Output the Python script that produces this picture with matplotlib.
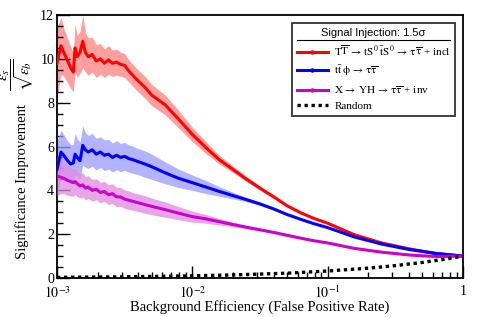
import matplotlib
matplotlib.use('Agg')
import matplotlib.pyplot as plt
from matplotlib.lines import Line2D
from matplotlib.ticker import FixedLocator, FixedFormatter, MultipleLocator, LogLocator, NullFormatter
import numpy as np

plt.rcParams['font.family'] = ['Liberation Serif', 'DejaVu Serif']
plt.rcParams['mathtext.fontset'] = 'stix'

## background efficiency (false positive rate)
eff = [0.001, 0.00107, 0.00112, 0.0012, 0.00126, 0.00132, 0.00136, 0.00141, 0.00148,
       0.00155, 0.00162, 0.0017, 0.00182, 0.00195, 0.00209, 0.00224, 0.0024, 0.00257,
       0.00275, 0.00295, 0.00316, 0.00339, 0.00363, 0.00389, 0.00447, 0.005, 0.0063,
       0.0079, 0.01, 0.0126, 0.0158, 0.02, 0.025, 0.0316, 0.04, 0.05, 0.063, 0.079,
       0.1, 0.158, 0.25, 0.4, 0.63, 1.0]

## significance improvement per model
sig_tt = [9.8, 10.6, 10.3, 9.9, 9.6, 9.4, 10.5, 10.1, 10.3, 10.8, 10.3, 10.1, 10.2,
          9.9, 10.0, 9.8, 9.95, 9.8, 9.85, 9.75, 9.7, 9.45, 9.25, 9.05, 8.7, 8.35, 7.9,
          7.25, 6.55, 5.95, 5.4, 4.95, 4.52, 4.1, 3.7, 3.3, 2.98, 2.72, 2.5, 1.97, 1.6,
          1.33, 1.12, 1.0]
err_tt = [1.6, 1.3, 1.1, 1.0, 0.95, 0.9, 1.1, 0.95, 0.95, 1.2, 0.9, 0.85, 0.8, 0.75,
          0.7, 0.65, 0.65, 0.6, 0.6, 0.55, 0.55, 0.5, 0.5, 0.5, 0.5, 0.48, 0.45, 0.4,
          0.33, 0.27, 0.2, 0.15, 0.12, 0.09, 0.07, 0.05, 0.04, 0.03, 0.03, 0.02, 0.02,
          0.02, 0.01, 0.0]

sig_ttphi = [4.95, 5.75, 5.6, 5.35, 5.2, 5.25, 5.65, 5.5, 5.35, 6.05, 5.85, 5.75, 5.85,
             5.65, 5.75, 5.6, 5.65, 5.5, 5.6, 5.5, 5.55, 5.45, 5.4, 5.33, 5.2, 5.08, 4.8,
             4.55, 4.35, 4.15, 3.95, 3.76, 3.58, 3.38, 3.15, 2.9, 2.68, 2.48, 2.3, 1.87,
             1.55, 1.3, 1.12, 1.0]
err_ttphi = [1.3, 1.0, 0.95, 0.9, 0.9, 0.85, 0.95, 0.85, 0.85, 0.9, 0.8, 0.75, 0.75,
             0.72, 0.7, 0.7, 0.68, 0.66, 0.66, 0.64, 0.64, 0.62, 0.62, 0.6, 0.6, 0.58,
             0.5, 0.42, 0.35, 0.3, 0.22, 0.15, 0.1, 0.07, 0.05, 0.04, 0.03, 0.03, 0.02,
             0.02, 0.02, 0.01, 0.01, 0.0]

sig_xyh = [4.65, 4.6, 4.55, 4.45, 4.4, 4.35, 4.4, 4.3, 4.2, 4.25, 4.1, 4.15, 4.0, 4.05,
           3.9, 3.95, 3.8, 3.85, 3.7, 3.7, 3.6, 3.55, 3.5, 3.45, 3.35, 3.27, 3.12, 2.96,
           2.8, 2.7, 2.57, 2.44, 2.32, 2.2, 2.08, 1.95, 1.82, 1.7, 1.6, 1.35, 1.18, 1.05,
           0.98, 1.0]
err_xyh = [0.9, 0.75, 0.7, 0.68, 0.66, 0.62, 0.6, 0.58, 0.56, 0.55, 0.53, 0.52, 0.5,
           0.48, 0.47, 0.46, 0.45, 0.45, 0.44, 0.43, 0.42, 0.42, 0.41, 0.4, 0.4, 0.38,
           0.35, 0.3, 0.25, 0.2, 0.15, 0.1, 0.07, 0.05, 0.04, 0.03, 0.03, 0.02, 0.02,
           0.02, 0.01, 0.01, 0.01, 0.0]

## random classifier
eff_rand = [0.001, 0.002, 0.005, 0.01, 0.02, 0.05, 0.1, 0.2, 0.3, 0.5, 0.7, 1.0]
sig_rand = [0.03, 0.045, 0.07, 0.1, 0.14, 0.22, 0.32, 0.45, 0.55, 0.71, 0.84, 1.0]

labels = [r'$\mathrm{T\overline{T}\,\rightarrow\,tS^{0}\;\bar{t}S^{0}\,\rightarrow\,\tau\overline{\tau}}$ + incl',
          r'$\mathrm{t\bar{t}\;\phi\,\rightarrow\,\tau\overline{\tau}}$',
          r'$\mathrm{X\,\rightarrow\,YH\,\rightarrow\,\tau\overline{\tau}}$ + inv',
          'Random']
colors = ['#ff0000', '#0000ff', '#cc00cc']
band_colors = ['#ff8080', '#9a9aff', '#e08ae0']

xticks = [0.001, 0.01, 0.1, 1.0]
xticklabels = [r'$10^{-3}$', r'$10^{-2}$', r'$10^{-1}$', '1']

fig = plt.figure(figsize=(4.88, 3.17), dpi=100)
ax = fig.add_axes([0.1168, 0.123, 0.832, 0.8297])

x = np.array(eff)
series = [(sig_tt, err_tt), (sig_ttphi, err_ttphi), (sig_xyh, err_xyh)]
for i, (s, e) in enumerate(series):
    s = np.array(s)
    e = np.array(e)
    ax.fill_between(x, s - e, s + e, color=band_colors[i], alpha=0.75, lw=0, zorder=1 + i)
for i, (s, e) in enumerate(series):
    ax.plot(x, s, color=colors[i], lw=2.2, zorder=5 + i)
ax.plot(eff_rand, sig_rand, color='k', lw=2.4, ls=(0, (1, 1.1)), zorder=9)

ax.set_xscale('log')
ax.set_xlim(0.001, 1.0)
ax.set_ylim(0, 12)

ax.xaxis.set_major_locator(FixedLocator(xticks))
ax.xaxis.set_major_formatter(FixedFormatter(xticklabels))
ax.xaxis.set_minor_locator(LogLocator(base=10, subs=np.arange(2, 10), numticks=20))
ax.xaxis.set_minor_formatter(NullFormatter())
ax.yaxis.set_major_locator(MultipleLocator(2))
ax.yaxis.set_minor_locator(MultipleLocator(0.5))
ax.tick_params(which='both', direction='in', top=False, right=False, labelsize=10, width=1)
ax.tick_params(which='major', length=9)
ax.tick_params(which='minor', length=4.5)
ax.tick_params(axis='x', which='major', pad=5)
ax.tick_params(axis='y', which='major', pad=2)
for sp in ax.spines.values():
    sp.set_linewidth(1.3)

ax.set_xlabel('Background Efficiency (False Positive Rate)', fontsize=10.5, labelpad=-1)
ax.set_ylabel('Significance Improvement', fontsize=10.5)
ax.yaxis.set_label_coords(-0.07, 0.365)
## the fraction part of the y label
fig.text(0.036, 0.765, r'$\dfrac{\varepsilon_{s}}{\sqrt{\varepsilon_{b}}}$', fontsize=11,
         rotation=90, ha='center', va='center')

handles = [Line2D([], [], color=colors[i], lw=2.2, marker='o', markersize=2.2) for i in range(3)]
handles.append(Line2D([], [], color='k', lw=2.4, ls=(0, (1, 1.1))))
leg = ax.legend(handles, labels, loc='upper left', bbox_to_anchor=(0.578, 0.97, 0.402, 0.0),
                mode='expand', fontsize=8, frameon=True, fancybox=False, handlelength=2.8,
                handletextpad=0.6, labelspacing=0.5, borderpad=0.45, borderaxespad=0,
                title='Signal Injection: 1.5σ',
                title_fontproperties={'family': 'Liberation Sans', 'size': 8})
leg.get_frame().set_edgecolor('k')
leg.get_frame().set_linewidth(1.3)
leg.set_zorder(20)

## line under the legend title
fig.canvas.draw()
tb = leg.get_title().get_window_extent()
fb = leg.get_frame().get_window_extent()
inv = fig.transFigure.inverted()
y_line = tb.y0 - 2
p0 = inv.transform((fb.x0 + 5, y_line))
p1 = inv.transform((fb.x1 - 5, y_line))
fig.add_artist(Line2D([p0[0], p1[0]], [p0[1], p1[1]], color='k', lw=0.8, zorder=30))

fig.savefig('out.png', dpi=100)
